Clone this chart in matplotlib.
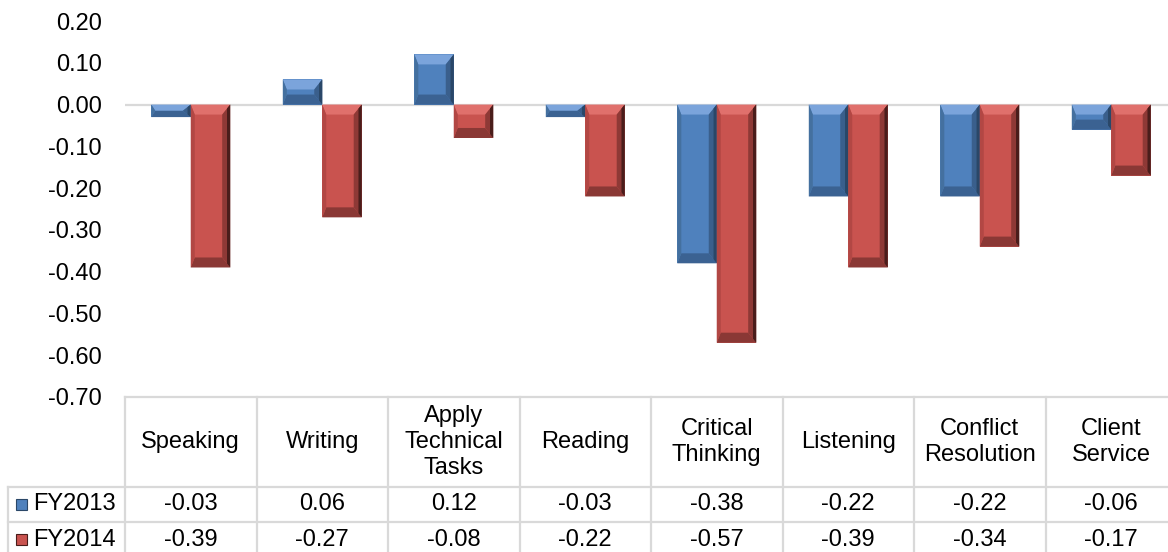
import numpy as np
import matplotlib
matplotlib.use("Agg")
import matplotlib.pyplot as plt
from matplotlib.patches import Polygon, Rectangle
from matplotlib.transforms import IdentityTransform

plt.rcParams.update({
    "font.family": ["Liberation Sans", "DejaVu Sans"],
    "font.size": 17,
})

# ── data ───────────────────────────────────────────────
categories = ["Speaking", "Writing", "Apply\nTechnical\nTasks", "Reading",
              "Critical\nThinking", "Listening", "Conflict\nResolution",
              "Client\nService"]
series_names = ["FY2013", "FY2014"]
fy2013 = [-0.03, 0.06, 0.12, -0.03, -0.38, -0.22, -0.22, -0.06]
fy2014 = [-0.39, -0.27, -0.08, -0.22, -0.57, -0.39, -0.34, -0.17]
y_ticks = [0.20, 0.10, 0.00, -0.10, -0.20, -0.30, -0.40, -0.50, -0.60, -0.70]

# colours: face, top, left, right(inner), right(outer), bottom
BLUE = ("#4F81BD", "#7BA4DB", "#44709F", "#3A5F8C", "#2A4768", "#3B6292")
RED = ("#C9534F", "#E0706C", "#B24744", "#8E3936", "#4A1D1B", "#8A3835")
GRID = "#D9D9D9"

W, H = 1168, 552
fig = plt.figure(figsize=(W / 100, H / 100), dpi=100)
fig.patch.set_facecolor("white")

col_w = 131.5
x_left = 125
ax_top, ax_bot = 21, 397
ax = fig.add_axes([x_left / W, (H - ax_bot) / H, 8 * col_w / W, (ax_bot - ax_top) / H])
ax.set_xlim(-0.5, 7.5)
ax.set_ylim(-0.70, 0.20)
for s in ax.spines.values():
    s.set_visible(False)
ax.set_xticks([])
ax.set_yticks(y_ticks)
ax.set_yticklabels([f"{v:.2f}" for v in y_ticks])
ax.tick_params(axis="y", length=0, pad=16.5)
ax.axhline(0, color=GRID, lw=1.6, zorder=1)

x = np.arange(len(categories))
bw = 0.30
b1 = ax.bar(x - bw / 2, fy2013, bw, color=BLUE[0], zorder=2)
b2 = ax.bar(x + bw / 2, fy2014, bw, color=RED[0], zorder=2)


def bevel(rect, cols, tb=10, lb=4, rb=8):
    (x0, y0), (x1, y1) = ax.transData.transform(
        [(rect.get_x(), rect.get_y()),
         (rect.get_x() + rect.get_width(), rect.get_y() + rect.get_height())])
    x0, x1 = min(x0, x1), max(x0, x1)
    y0, y1 = min(y0, y1), max(y0, y1)
    t = min(tb, (y1 - y0) / 2)
    l = min(lb, (x1 - x0) / 4)
    r = min(rb, (x1 - x0) / 3)
    ro = r * 0.4
    polys = [
        ([(x0, y1), (x1, y1), (x1 - r, y1 - t), (x0 + l, y1 - t)], cols[1]),
        ([(x0, y0), (x1, y0), (x1 - r, y0 + t), (x0 + l, y0 + t)], cols[5]),
        ([(x0, y0), (x0, y1), (x0 + l, y1 - t), (x0 + l, y0 + t)], cols[2]),
        ([(x1, y0), (x1, y1), (x1 - r, y1 - t), (x1 - r, y0 + t)], cols[3]),
        ([(x1, y0), (x1, y1), (x1 - ro, y1 - t * 0.4), (x1 - ro, y0 + t * 0.4)], cols[4]),
    ]
    for pts, c in polys:
        ax.add_patch(Polygon(pts, closed=True, facecolor=c, edgecolor="none",
                             transform=IdentityTransform(), zorder=3, clip_on=False))


for rr in b1:
    bevel(rr, BLUE)
for rr in b2:
    bevel(rr, RED)

# ── data table ─────────────────────────────────────────
tax = fig.add_axes([x_left / W, 0, 8 * col_w / W, (H - ax_bot) / H])
tax.set_xlim(-0.5, 7.5)
tax.set_ylim(H - ax_bot, 0)
tax.axis("off")
label_x = -0.5 - (x_left - 8) / col_w
row_y = [0, 90, 125, 160]

lkw = dict(color=GRID, lw=1.6, clip_on=False)
tax.plot([-0.5, 7.5], [row_y[0], row_y[0]], **lkw)
for yy in row_y[1:3]:
    tax.plot([label_x, 7.5], [yy, yy], **lkw)
tax.plot([label_x, label_x], [row_y[1], row_y[3]], **lkw)
for k in range(9):
    tax.plot([k - 0.5, k - 0.5], [row_y[0], row_y[3]], **lkw)

for i, cat in enumerate(categories):
    tax.text(i, (row_y[0] + row_y[1]) / 2, cat, ha="center", va="center",
             linespacing=1.25, clip_on=False)
for r, (vals, cols, name) in enumerate(zip([fy2013, fy2014], [BLUE, RED], series_names)):
    yc = (row_y[r + 1] + row_y[r + 2]) / 2
    for i, v in enumerate(vals):
        tax.text(i, yc, f"{v:.2f}", ha="center", va="center", clip_on=False)
    tax.text(label_x + 25 / col_w, yc, name, ha="left", va="center", clip_on=False)
    # legend key
    ky = H - (ax_bot + yc)
    fig.add_artist(Rectangle((16, ky - 5), 11, 11, facecolor=cols[0],
                             edgecolor=cols[4], lw=0.8, transform=IdentityTransform()))

fig.savefig("out.png", dpi=100)
